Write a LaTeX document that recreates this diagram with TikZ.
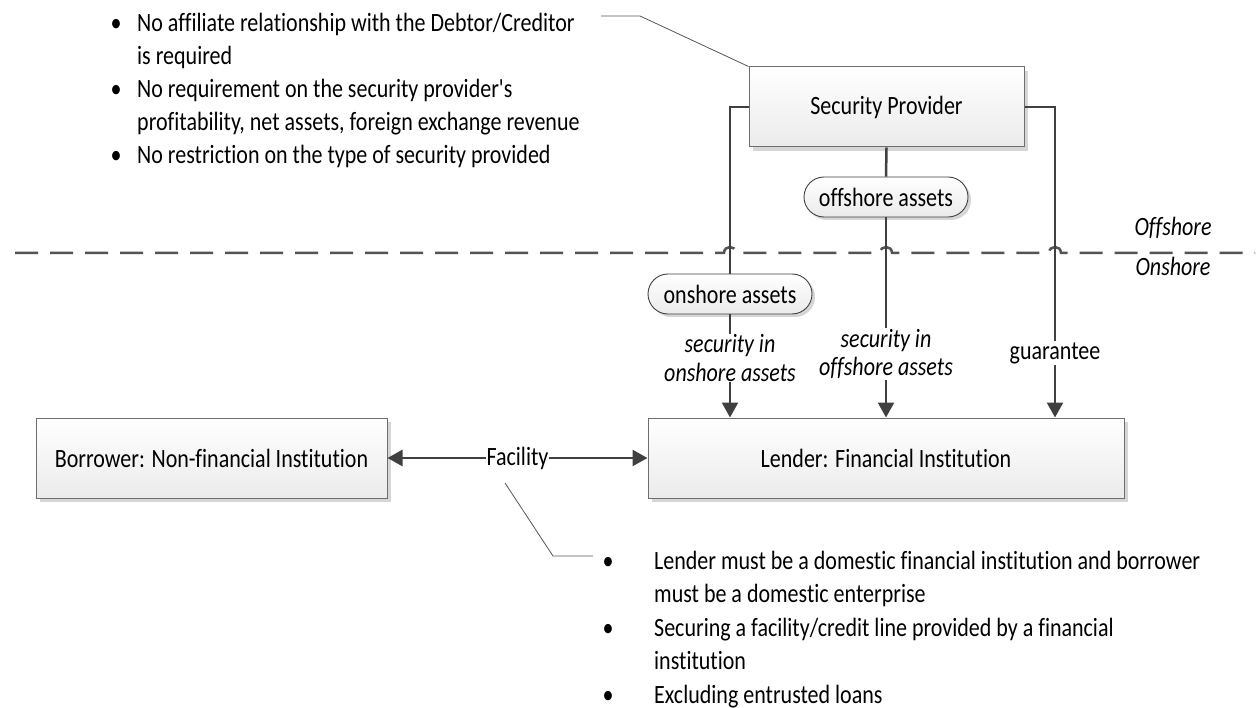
\documentclass[tikz,border=0pt]{standalone}
\usepackage{fontspec}
\setmainfont{Carlito}[FakeStretch=0.8333, Ligatures={TeXOff,CommonOff}]
\usetikzlibrary{arrows.meta,shadows,calc}
\definecolor{wirec}{HTML}{404040}
\definecolor{bordc}{HTML}{6E6E6E}
\definecolor{boxbot}{HTML}{EBEBEB}
\definecolor{shadc}{HTML}{D6D6D6}
\definecolor{leadc}{HTML}{555555}
\newcommand\fsz{\fontsize{26.4}{28}\selectfont}
\begin{document}
\begin{tikzpicture}[x=1pt,y=-1pt,
  boxnode/.style={draw=bordc, line width=1pt, top color=white, bottom color=boxbot,
    drop shadow={shadow xshift=4pt, shadow yshift=-4pt, fill=shadc, opacity=1},
    minimum height=80pt, inner sep=0pt, font=\fsz},
  pill/.style={draw=wirec, line width=0.9pt, rounded corners=20pt, top color=white, bottom color=boxbot,
    drop shadow={shadow xshift=3pt, shadow yshift=-3pt, fill=shadc, opacity=1},
    minimum width=164pt, minimum height=40pt, inner sep=0pt, font=\fsz},
  wire/.style={draw=wirec, line width=2.5pt},
  arr/.style={wire, -{Triangle[length=15pt,width=16pt]}},
  dblarr/.style={wire, {Triangle[length=15pt,width=16pt]}-{Triangle[length=15pt,width=16pt]}},
  lab/.style={fill=white, inner xsep=1pt, inner ysep=1pt, font=\fsz, align=center},
  lead/.style={draw=leadc, line width=0.8pt},
  sidelab/.style={font=\fsz\itshape, inner sep=0pt}
]
\useasboundingbox (0,0) rectangle (1260,708);

% boundary line with hops
\draw[draw=wirec!90, line width=2.5pt, dash pattern=on 23pt off 12pt]
  (15,253) -- (724,253) .. controls (724,245) and (736,245) .. (736,253)
  -- (880,253) .. controls (880,245) and (892,245) .. (892,253)
  -- (1049,253) .. controls (1049,245) and (1061,245) .. (1061,253)
  -- (1255,253);
\node[sidelab] (offl) at (1173,228) {Offshore};
\node[sidelab] (onl) at (1173,266) {Onshore};

% boxes
\node[boxnode, minimum width=275pt] (sp) at (886.5,107) {Security Provider};
\node[boxnode, minimum width=476pt] (lender) at (886,458) {Lender: Financial Institution};
\node[boxnode, minimum width=351pt] (borrower) at (211.5,458) {Borrower: Non-financial Institution};

\node[pill] (offpill) at (886,197) {offshore assets};
\node[pill] (onpill) at (730,294) {onshore assets};

% connectors
\coordinate (lt) at (730,107);
\coordinate (rt) at (1055,107);
\draw[wire] (sp.west |- lt) -- (lt) -- (onpill.north);
\draw[arr] (onpill.south) -- (onpill.south |- lender.north);
\draw[wire] (sp.south) -- (offpill.north);
\draw[arr] (offpill.south) -- (offpill.south |- lender.north);
\draw[arr] (sp.east |- rt) -- (rt) -- (rt |- lender.north);
\draw[dblarr] (borrower.east) -- (lender.west);

\node[lab] (l1) at (730,358) {\itshape security in\\[0.5pt]\itshape onshore assets};
\node[lab] (l2) at (886,354) {\itshape security in\\[0.5pt]\itshape offshore assets};
\node[lab] (l3) at (1055,353) {guarantee};
\node[lab] (fac) at (517.5,458) {Facility};

% notes
\node[anchor=north west, inner sep=0pt, font=\fsz] (note1) at (110.5,8) {%
  \fontsize{26.4}{33}\selectfont\begin{tabular}{@{}l@{}}
  \makebox[26.5pt][l]{\textbullet}No affiliate relationship with the Debtor/Creditor\\
  \hspace*{26.5pt}is required\\
  \makebox[26.5pt][l]{\textbullet}No requirement on the security provider's\\
  \hspace*{26.5pt}profitability, net assets, foreign exchange revenue\\
  \makebox[26.5pt][l]{\textbullet}No restriction on the type of security provided
  \end{tabular}};
\node[anchor=north west, inner sep=0pt, font=\fsz] (note2) at (602.5,545.5) {%
  \fontsize{26.4}{33.5}\selectfont\begin{tabular}{@{}l@{}}
  \makebox[51.5pt][l]{\textbullet}Lender must be a domestic financial institution and borrower\\
  \hspace*{51.5pt}must be a domestic enterprise\\
  \makebox[51.5pt][l]{\textbullet}Securing a facility/credit line provided by a financial\\
  \hspace*{51.5pt}institution\\
  \makebox[51.5pt][l]{\textbullet}Excluding entrusted loans
  \end{tabular}};

% leader lines
\coordinate (ta) at (601,16);
\coordinate (tb) at (640,16);
\draw[lead] (ta) -- (tb) -- (sp.north west);
\coordinate (ba) at (505,483);
\coordinate (bb) at (553,556);
\coordinate (bc) at (593,556);
\draw[lead] (ba) -- (bb) -- (bc);
\end{tikzpicture}
\end{document}
